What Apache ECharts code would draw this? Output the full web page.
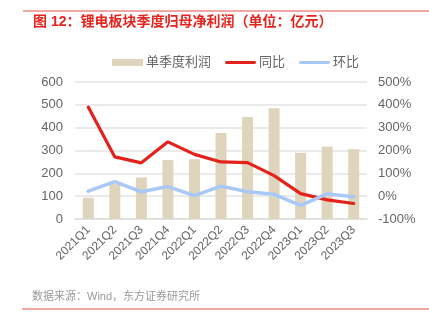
<!DOCTYPE html>
<html>
<head>
<meta charset="utf-8">
<script src="https://cdn.jsdelivr.net/npm/echarts@6/dist/echarts.min.js"></script>
<style>
  html, body { margin: 0; padding: 0; background: #fff; }
  #chart { width: 429px; height: 325px; }
</style>
</head>
<body>
<div id="chart"></div>
<script>
// Quarterly net profit attributable to parent, lithium battery sector
const quarters = ['2021Q1', '2021Q2', '2021Q3', '2021Q4', '2022Q1', '2022Q2', '2022Q3', '2022Q4', '2023Q1', '2023Q2', '2023Q3'];
const profit = [93, 153, 182, 258, 262, 377, 447, 485, 290, 317, 306];      // 亿元
const yoy = [390, 172, 146, 238, 183, 150, 147, 90, 11, -16, -32];           // %
const qoq = [22, 64, 19, 42, 2, 44, 19, 8, -40, 10, -3];                     // %
const leftTicks = { min: 0, max: 600, interval: 100 };
const rightTicks = { min: -100, max: 500, interval: 100 };

const FONT = "'Liberation Sans', 'Noto Sans CJK SC', sans-serif";
// thin rounded bar used as the legend mark of the line series
const LINE_ICON = 'path://M1.5,0h30a1.5,1.5 0 0 1 0,3h-30a1.5,1.5 0 0 1 0,-3z';
const chart = echarts.init(document.getElementById('chart'));

chart.setOption({
  animation: false,
  backgroundColor: '#fff',
  textStyle: { fontFamily: FONT },
  graphic: [
    { type: 'line', shape: { x1: 23, y1: 11, x2: 429, y2: 11 }, style: { stroke: '#ec8a86', lineWidth: 1.5 } },
    { type: 'text', left: 33, top: 15, style: { text: '图 12：锂电板块季度归母净利润（单位：亿元）', fill: '#e8231d', font: 'bold 14px ' + FONT } },
    { type: 'text', left: 32, top: 291, style: { text: '数据来源：Wind，东方证券研究所', fill: '#9a9a9a', font: '11px ' + FONT } },
    { type: 'line', shape: { x1: 22, y1: 309, x2: 429, y2: 309 }, style: { stroke: '#ec8a86', lineWidth: 1.5 } }
  ],
  legend: {
    top: 51,
    left: 107,
    itemWidth: 31,
    itemHeight: 7,
    itemGap: 14,
    symbolKeepAspect: true,
    textStyle: { fontSize: 13, color: '#666', fontFamily: FONT, padding: [0, 0, 0, -2] },
    data: [
      { name: '单季度利润', icon: 'rect' },
      { name: '同比', icon: LINE_ICON },
      { name: '环比', icon: LINE_ICON }
    ]
  },
  grid: { left: 75, right: 62, top: 82, bottom: 106, containLabel: false },
  xAxis: {
    type: 'category',
    data: quarters,
    axisTick: { show: false },
    axisLine: { lineStyle: { color: '#dedede', width: 1.5 } },
    axisLabel: { rotate: 45, color: '#666', fontSize: 12, margin: 9, fontFamily: FONT }
  },
  yAxis: [
    {
      type: 'value',
      min: leftTicks.min, max: leftTicks.max, interval: leftTicks.interval,
      axisLine: { show: false }, axisTick: { show: false },
      axisLabel: { color: '#666', fontSize: 13, margin: 12, fontFamily: FONT },
      splitLine: { lineStyle: { color: '#e3e3e3', width: 1.5 } }
    },
    {
      type: 'value',
      min: rightTicks.min, max: rightTicks.max, interval: rightTicks.interval,
      axisLine: { show: false }, axisTick: { show: false },
      axisLabel: { color: '#666', fontSize: 13, margin: 11, formatter: '{value}%', fontFamily: FONT },
      splitLine: { show: false }
    }
  ],
  series: [
    {
      name: '单季度利润',
      type: 'bar',
      data: profit,
      barWidth: 11,
      itemStyle: { color: '#dfd5bc' }
    },
    {
      name: '同比',
      type: 'line',
      yAxisIndex: 1,
      data: yoy,
      symbol: 'none',
      lineStyle: { color: '#e3221c', width: 3.2, cap: 'round' },
      itemStyle: { color: '#e3221c' }
    },
    {
      name: '环比',
      type: 'line',
      yAxisIndex: 1,
      data: qoq,
      symbol: 'none',
      lineStyle: { color: '#a8c8f8', width: 3.5, cap: 'round' },
      itemStyle: { color: '#a8c8f8' }
    }
  ]
});
</script>
</body>
</html>
